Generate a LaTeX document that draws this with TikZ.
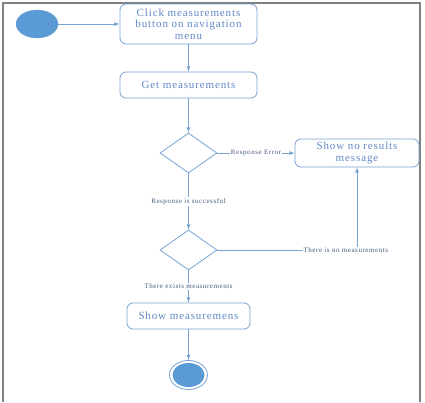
\documentclass[tikz,border=0pt]{standalone}
\usepackage{fontspec}
\setmainfont{Liberation Serif}
\newfontfamily\boxfont[LetterSpace=8]{Liberation Serif}
\usetikzlibrary{shapes.geometric,positioning}
\definecolor{umlblue}{RGB}{91,155,213}
\definecolor{umlline}{RGB}{120,162,210}
\definecolor{umltext}{RGB}{95,135,195}
\definecolor{guardtext}{RGB}{70,90,130}
\tikzset{
  action/.style={draw=umlline, rounded corners=6pt, align=center, text=umltext,
    font=\boxfont\fontsize{11}{11.3}\selectfont, line width=0.8pt, inner sep=0pt},
  decision/.style={draw=umlline, diamond, minimum width=57pt, minimum height=40pt,
    inner sep=0pt, line width=0.8pt},
  guard/.style={fill=white, text=guardtext, font=\boxfont\fontsize{7}{8}\selectfont, inner sep=1pt},
  flow/.style={->, draw=umlline, line width=0.8pt},
}
\begin{document}
\begin{tikzpicture}[>=latex, x=1pt, y=-1pt]
\useasboundingbox (0,0) rectangle (425,402);
% frame
\draw[gray, line width=1.3pt] (3,402) -- (3,3) -- (420,3) -- (420,402);
% states
\node[ellipse, fill=umlblue, draw=umlline, minimum width=42pt, minimum height=28pt] (start) at (37,24) {};
\node[action, minimum width=137pt, minimum height=40pt] (click) at (188.5,24)
  {Click measurements\\button on navigation\\menu};
\node[action, minimum width=137pt, minimum height=26pt] (get) at (188.5,85) {Get measurements};
\node[decision] (dec1) at (188.5,153) {};
\node[action, minimum width=124pt, minimum height=28pt] (nores) at (357,153)
  {Show no results\\message};
\node[decision] (dec2) at (188.5,250) {};
\node[action, minimum width=123pt, minimum height=26pt] (show) at (188.5,316) {Show measuremens};
\node[ellipse, draw=umlline, line width=0.8pt, minimum width=38pt, minimum height=29pt] (end) at (188.5,375) {};
\node[ellipse, fill=umlblue, minimum width=32pt, minimum height=24pt] (endin) at (end) {};
% flows
\draw[flow] (start) -- (click);
\draw[flow] (click) -- (get);
\draw[flow] (get) -- (dec1);
\draw[flow] (dec1) -- node[guard] {Response Error} (nores);
\draw[flow] (dec1) -- node[guard] {Response is successful} (dec2);
\draw[flow] (dec2.east) -| node[guard, pos=0.46] {There is no measurements} (nores.south);
\draw[flow] (dec2) -- node[guard] {There exists measurements} (show);
\draw[flow] (show) -- (end);
\end{tikzpicture}
\end{document}
